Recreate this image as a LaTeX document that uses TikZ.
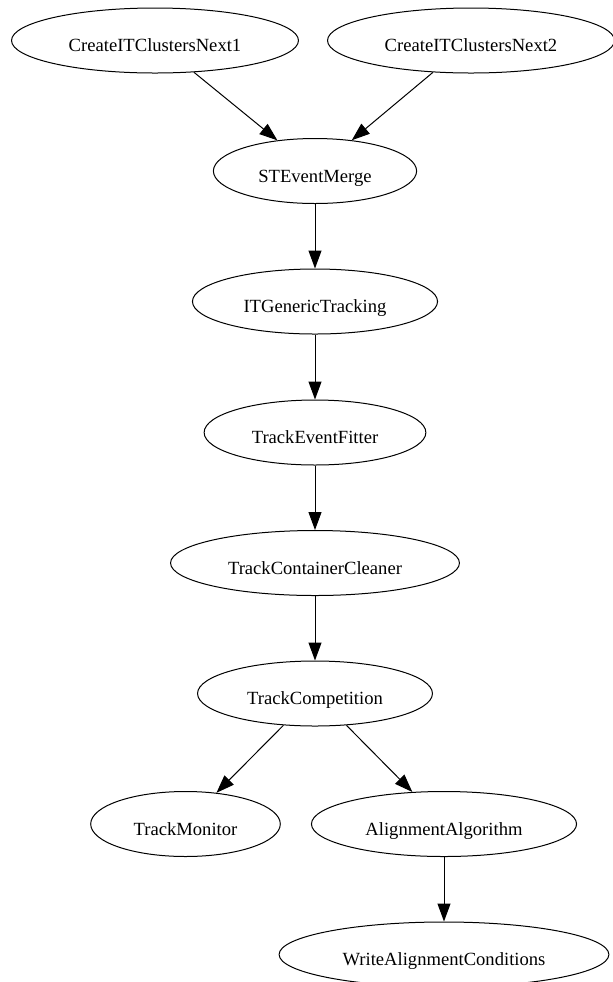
\documentclass[tikz,border=0pt]{standalone}
\usepackage{fontspec}
\setmainfont{Liberation Serif}
\usepackage{tikz}
\usetikzlibrary{shapes.geometric, arrows.meta}

\begin{document}
\begin{tikzpicture}[x=0.5pt, y=-0.5pt, >={Triangle[length=9pt, width=6.5pt]},
    every node/.style={draw, ellipse, line width=0.5pt, minimum height=32.5pt,
      inner xsep=7.6pt, inner ysep=0pt, text height=11pt, text depth=0pt,
      font=\fontsize{9.3}{11}\selectfont}]
        \useasboundingbox (0,0) rectangle (613,982);
        \node (next1) at (155,40.5) {CreateITClustersNext1};
        \node (next2) at (471,40.5) {CreateITClustersNext2};
        \node (merge) at (315,171) {STEventMerge};
        \node (tracking) at (315,301.5) {ITGenericTracking};
        \node (fitter) at (315,432.5) {TrackEventFitter};
        \node (cleaner) at (315,563) {TrackContainerCleaner};
        \node (competition) at (315,693.5) {TrackCompetition};
        \node (monitor) at (185.5,824) {TrackMonitor};
        \node (align) at (444,824) {AlignmentAlgorithm};
        \node (write) at (444,954.5) {WriteAlignmentConditions};
        
        \draw[->, line width=0.5pt] (next1) -- (merge);
        \draw[->, line width=0.5pt] (next2) -- (merge);
        \draw[->, line width=0.5pt] (merge) -- (tracking);
        \draw[->, line width=0.5pt] (tracking) -- (fitter);
        \draw[->, line width=0.5pt] (fitter) -- (cleaner);
        \draw[->, line width=0.5pt] (cleaner) -- (competition);
        \draw[->, line width=0.5pt] (competition) -- (monitor);
        \draw[->, line width=0.5pt] (competition) -- (align);
        \draw[->, line width=0.5pt] (align) -- (write);
    \end{tikzpicture}
\end{document}
